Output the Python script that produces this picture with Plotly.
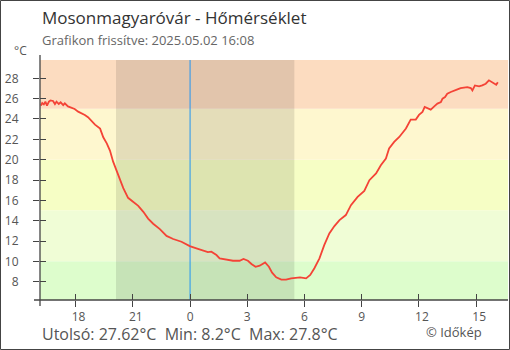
import plotly.graph_objects as go

# ---- data ----
times = [
    "2025-05-01 16:11", "2025-05-01 16:15", "2025-05-01 16:20", "2025-05-01 16:25",
    "2025-05-01 16:30", "2025-05-01 16:36", "2025-05-01 16:41", "2025-05-01 16:49",
    "2025-05-01 16:55", "2025-05-01 17:00", "2025-05-01 17:07", "2025-05-01 17:13",
    "2025-05-01 17:21", "2025-05-01 17:26", "2025-05-01 17:36", "2025-05-01 17:47",
    "2025-05-01 17:57", "2025-05-01 18:08", "2025-05-01 18:18", "2025-05-01 18:29",
    "2025-05-01 18:39", "2025-05-01 18:49",
    "2025-05-01 19:01", "2025-05-01 19:17", "2025-05-01 19:27",
    "2025-05-01 19:38", "2025-05-01 19:48", "2025-05-01 19:58", "2025-05-01 20:09",
    "2025-05-01 20:20", "2025-05-01 20:30", "2025-05-01 20:45", "2025-05-01 21:01",
    "2025-05-01 21:17", "2025-05-01 21:33", "2025-05-01 21:48", "2025-05-01 22:04",
    "2025-05-01 22:25", "2025-05-01 22:46", "2025-05-01 23:07", "2025-05-01 23:33",
    "2025-05-01 23:59", "2025-05-02 00:20", "2025-05-02 00:41", "2025-05-02 00:56",
    "2025-05-02 01:07", "2025-05-02 01:23", "2025-05-02 01:33", "2025-05-02 01:54",
    "2025-05-02 02:15", "2025-05-02 02:36", "2025-05-02 02:48", "2025-05-02 03:02",
    "2025-05-02 03:13", "2025-05-02 03:26", "2025-05-02 03:39", "2025-05-02 03:56",
    "2025-05-02 04:08", "2025-05-02 04:18", "2025-05-02 04:31", "2025-05-02 04:47",
    "2025-05-02 05:02", "2025-05-02 05:18", "2025-05-02 05:34", "2025-05-02 05:46",
    "2025-05-02 06:05", "2025-05-02 06:18", "2025-05-02 06:31", "2025-05-02 06:47",
    "2025-05-02 07:02", "2025-05-02 07:18", "2025-05-02 07:34", "2025-05-02 07:50",
    "2025-05-02 08:10", "2025-05-02 08:26", "2025-05-02 08:47", "2025-05-02 09:08",
    "2025-05-02 09:24", "2025-05-02 09:45", "2025-05-02 10:00", "2025-05-02 10:16",
    "2025-05-02 10:26", "2025-05-02 10:42", "2025-05-02 10:58", "2025-05-02 11:19",
    "2025-05-02 11:34", "2025-05-02 11:50",
    "2025-05-02 12:00", "2025-05-02 12:11", "2025-05-02 12:18", "2025-05-02 12:27",
    "2025-05-02 12:37", "2025-05-02 12:48", "2025-05-02 12:58", "2025-05-02 13:09",
    "2025-05-02 13:14", "2025-05-02 13:22", "2025-05-02 13:29", "2025-05-02 13:40",
    "2025-05-02 13:50", "2025-05-02 14:01", "2025-05-02 14:11", "2025-05-02 14:22",
    "2025-05-02 14:32", "2025-05-02 14:43", "2025-05-02 14:48", "2025-05-02 14:56",
    "2025-05-02 15:09", "2025-05-02 15:19", "2025-05-02 15:30", "2025-05-02 15:40",
    "2025-05-02 15:49", "2025-05-02 15:56", "2025-05-02 16:03", "2025-05-02 16:08",
]
temps = [
    25.31, 25.57, 25.44, 25.7,
    25.31, 25.7, 25.83, 25.77,
    25.47, 25.7, 25.47, 25.64,
    25.37, 25.54, 25.24, 25.1,
    24.98, 24.72, 24.59, 24.4,
    24.17, 23.84,
    23.45, 23.05, 22.2,
    21.6, 20.9, 19.8, 18.96,
    18.0, 17.2, 16.25, 15.85,
    15.46, 14.87, 14.2, 13.7,
    13.17, 12.5, 12.2, 11.93,
    11.5, 11.28, 11.05, 10.9,
    10.95, 10.62, 10.3, 10.2,
    10.06, 10.06, 10.23, 10.06,
    9.74, 9.47, 9.57, 9.9,
    9.47, 8.89, 8.43, 8.2,
    8.2, 8.33, 8.43, 8.43,
    8.33, 8.66, 9.32, 10.3,
    11.6, 12.75, 13.47, 14.06,
    14.55, 15.53, 16.34, 16.93,
    17.98, 18.64, 19.45, 20.1,
    21.1, 21.74, 22.23, 23.06,
    23.94, 23.94,
    24.4, 24.69, 25.18, 25.02,
    24.92, 25.24, 25.51, 25.67,
    26.0, 26.16, 26.49, 26.65,
    26.81, 26.91, 27.04, 27.08,
    27.14, 27.04, 26.81, 27.3,
    27.2, 27.3, 27.47, 27.8,
    27.63, 27.47, 27.37, 27.62,
]
x_range = ["2025-05-01 16:08", "2025-05-02 16:40"]
y_range = [6.2, 29.8]
tick_vals = ["2025-05-01 18:00", "2025-05-01 21:00", "2025-05-02 00:00", "2025-05-02 03:00",
             "2025-05-02 06:00", "2025-05-02 09:00", "2025-05-02 12:00", "2025-05-02 15:00"]
tick_text = ["18", "21", "0", "3", "6", "9", "12", "15"]
y_ticks = [8, 10, 12, 14, 16, 18, 20, 22, 24, 26, 28]
band_edges = [-100, 10, 15, 20, 25, 100]
band_colors = ["#ddfdcc", "#f0fdd6", "#f6fec5", "#fef7cf", "#fcdcc0"]
sunset = "2025-05-01 20:07"
sunrise = "2025-05-02 05:28"
midnight = "2025-05-02 00:00"

title = "Mosonmagyaróvár - Hőmérséklet"
subtitle = "Grafikon frissítve: 2025.05.02 16:08"
footer = "Utolsó: 27.62°C  Min: 8.2°C  Max: 27.8°C"
credit = "© Időkép"

FONT = "Open Sans"
GRAY = "#555555"
AX = "#444444"

W, H, L, T, PW, PH = 510, 350, 40, 60, 468, 240
def px(xp):
    return (xp - L) / PW
def py(yp):
    return (T + PH - yp) / PH

fig = go.Figure()
fig.add_trace(go.Scatter(x=times, y=temps, mode="lines",
                         line=dict(color="#f44336", width=1.8),
                         hoverinfo="skip", showlegend=False))

shapes = []
for i, c in enumerate(band_colors):
    shapes.append(dict(type="rect", xref="paper", yref="y", x0=0, x1=1,
                       y0=band_edges[i], y1=band_edges[i + 1],
                       fillcolor=c, line_width=0, layer="below"))
shapes.append(dict(type="rect", xref="x", yref="paper", x0=sunset, x1=sunrise,
                   y0=0, y1=1, fillcolor="rgba(0,0,0,0.1)", line_width=0, layer="below"))
shapes.append(dict(type="line", xref="x", yref="paper", x0=midnight, x1=midnight,
                   y0=0, y1=1, line=dict(color="#2196f3", width=1), layer="below"))
# axis lines (extend slightly past the plot area like the original)
shapes.append(dict(type="line", xref="paper", yref="paper", x0=0, x1=0,
                   y0=py(306), y1=py(55), line=dict(color=AX, width=1.3)))
shapes.append(dict(type="line", xref="paper", yref="paper", x0=px(34), x1=1,
                   y0=0, y1=0, line=dict(color=AX, width=1.3)))
# outer frame
shapes.append(dict(type="rect", xref="paper", yref="paper",
                   x0=px(0.5), x1=px(509.5), y0=py(0.5), y1=py(349.5),
                   line=dict(color=AX, width=1), fillcolor="rgba(0,0,0,0)"))

annotations = [
    dict(text=title, x=px(40), y=py(18), xanchor="left", yanchor="middle",
         font=dict(size=17, color="#333333", family=FONT)),
    dict(text=subtitle, x=px(40), y=py(40.5), xanchor="left", yanchor="middle",
         font=dict(size=13, color="#666666", family=FONT)),
    dict(text="°C", x=px(12), y=py(51), xanchor="left", yanchor="middle",
         font=dict(size=12, color=GRAY, family=FONT)),
    dict(text=footer, x=px(40), y=py(334), xanchor="left", yanchor="middle",
         font=dict(size=16, color=GRAY, family=FONT)),
    dict(text=credit, x=px(424), y=py(331.5), xanchor="left", yanchor="middle",
         font=dict(size=13, color=GRAY, family=FONT)),
]
for a in annotations:
    a.update(xref="paper", yref="paper", showarrow=False)

two_digit = [t if len(t) > 1 else "" for t in tick_text]
one_digit = [t if len(t) == 1 else "" for t in tick_text]

common_x = dict(type="date", range=x_range, tickvals=tick_vals,
                ticklen=6, tickwidth=1.3, tickcolor=AX, showgrid=False, zeroline=False,
                showline=False, tickfont=dict(size=12, color=GRAY))
common_y = dict(range=y_range, tickvals=y_ticks, ticklen=6, tickwidth=1.3,
                tickcolor=AX, showgrid=False, zeroline=False, showline=False)

fig.update_layout(
    width=W, height=H,
    margin=dict(l=L, r=W - L - PW, t=T, b=H - T - PH, pad=0),
    paper_bgcolor="white", plot_bgcolor="white",
    font=dict(family=FONT, size=12, color=GRAY),
    xaxis=dict(**common_x, ticks="outside", ticktext=two_digit, ticklabelshift=3),
    xaxis2=dict(**common_x, ticks="inside", overlaying="x", showticklabels=False,
                ticktext=tick_text),
    xaxis3=dict(**common_x, ticks="outside", overlaying="x", ticktext=one_digit),
    yaxis=dict(**common_y, ticks="outside",
               tickfont=dict(size=12, color=GRAY), ticklabelstandoff=12),
    yaxis2=dict(**common_y, ticks="inside", overlaying="y", showticklabels=False),
    shapes=shapes, annotations=annotations, showlegend=False,
)
# invisible traces to activate the overlaid axes
for xa, ya in (("x2", "y2"), ("x3", "y")):
    fig.add_trace(go.Scatter(x=[times[0]], y=[temps[0]], xaxis=xa, yaxis=ya,
                             mode="markers", marker=dict(opacity=0), hoverinfo="skip",
                             showlegend=False))
fig.write_html("out.html")
